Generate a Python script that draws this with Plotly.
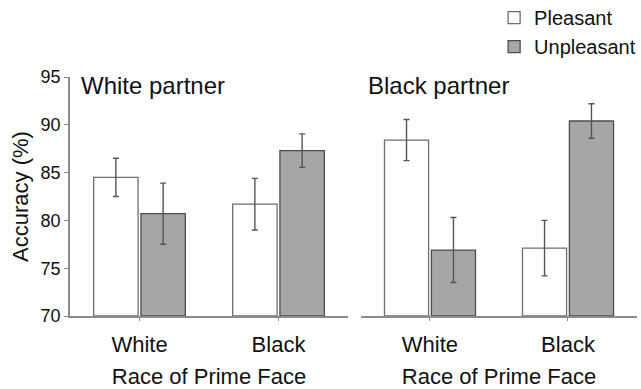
import plotly.graph_objects as go

# Accuracy (%) by race of prime face, split by partner race
prime_races = ["White", "Black"]
partners = ["White partner", "Black partner"]

pleasant_white_partner = [84.5, 81.7]
unpleasant_white_partner = [80.7, 87.3]
pleasant_black_partner = [88.4, 77.1]
unpleasant_black_partner = [76.9, 90.4]

pleasant_err_white_partner = [2.0, 2.7]
unpleasant_err_white_partner = [3.2, 1.75]
pleasant_err_black_partner = [2.15, 2.9]
unpleasant_err_black_partner = [3.4, 1.8]

y_ticks = [70, 75, 80, 85, 90, 95]

FONT = "Liberation Sans, Arial, sans-serif"
GRAY_FILL = "#a6a6a6"
AXIS_COLOR = "#8c8c8c"
ERR_COLOR = "#555555"

fig = go.Figure()


def add_pair(xaxis, yaxis, pleasant, pleasant_err, unpleasant, unpleasant_err, show):
    fig.add_trace(go.Bar(
        x=prime_races, y=[v - 70 for v in pleasant], base=70,
        name="Pleasant", legendgroup="p", showlegend=show,
        offsetgroup="p",
        marker=dict(color="white", line=dict(color="#6e6e6e", width=1.3)),
        error_y=dict(type="data", array=pleasant_err, color=ERR_COLOR,
                     thickness=1.4, width=3),
        xaxis=xaxis, yaxis=yaxis,
    ))
    fig.add_trace(go.Bar(
        x=prime_races, y=[v - 70 for v in unpleasant], base=70,
        name="Unpleasant", legendgroup="u", showlegend=show,
        offsetgroup="u",
        marker=dict(color=GRAY_FILL, line=dict(color="#4d4d4d", width=1.3)),
        error_y=dict(type="data", array=unpleasant_err, color=ERR_COLOR,
                     thickness=1.4, width=3),
        xaxis=xaxis, yaxis=yaxis,
    ))


add_pair("x", "y", pleasant_white_partner, pleasant_err_white_partner,
         unpleasant_white_partner, unpleasant_err_white_partner, True)
add_pair("x2", "y2", pleasant_black_partner, pleasant_err_black_partner,
         unpleasant_black_partner, unpleasant_err_black_partner, False)

xaxis_common = dict(
    type="category", range=[-0.5, 1.5], automargin=False,
    showline=True, linecolor=AXIS_COLOR, linewidth=1.5,
    ticks="outside", ticklen=3, tickcolor=AXIS_COLOR,
    showgrid=False, zeroline=False, ticklabelstandoff=5,
    tickfont=dict(family=FONT, size=22, color="#111111"),
    title=dict(text="Race of Prime Face", standoff=14,
               font=dict(family=FONT, size=22, color="#111111")),
)

fig.update_layout(
    width=641, height=389,
    margin=dict(l=70, r=4, t=77, b=73, autoexpand=False),
    paper_bgcolor="white", plot_bgcolor="white",
    barmode="group", bargap=0.32, bargroupgap=0.06,
    font=dict(family=FONT, color="#111111"),
    xaxis=dict(domain=[0, 0.4903], anchor="y", **xaxis_common),
    xaxis2=dict(domain=[0.5132, 1], anchor="y2", **xaxis_common),
    yaxis=dict(
        range=[70, 95], tickvals=y_ticks, showline=True, automargin=False,
        linecolor=AXIS_COLOR, linewidth=1.5, ticks="outside", ticklen=4,
        tickcolor=AXIS_COLOR, showgrid=False, zeroline=False,
        tickfont=dict(family=FONT, size=18, color="#111111"),
        title=dict(text="Accuracy (%)", standoff=6,
                   font=dict(family=FONT, size=22, color="#111111")),
    ),
    yaxis2=dict(range=[70, 95], anchor="x2", showline=False, automargin=False,
                showticklabels=False, ticks="", showgrid=False, zeroline=False),
    legend=dict(
        x=0.748, y=1.33, xanchor="left", yanchor="top",
        font=dict(family=FONT, size=20, color="#111111"),
        bgcolor="rgba(0,0,0,0)", tracegroupgap=0, itemwidth=30,
    ),
    annotations=[
        dict(text=partners[0], xref="paper", yref="paper", x=0.015, y=0.965,
             xanchor="left", yanchor="middle", showarrow=False,
             font=dict(family=FONT, size=24, color="#111111")),
        dict(text=partners[1], xref="paper", yref="paper", x=0.522, y=0.965,
             xanchor="left", yanchor="middle", showarrow=False,
             font=dict(family=FONT, size=24, color="#111111")),
    ],
)

fig.write_html("out.html")
